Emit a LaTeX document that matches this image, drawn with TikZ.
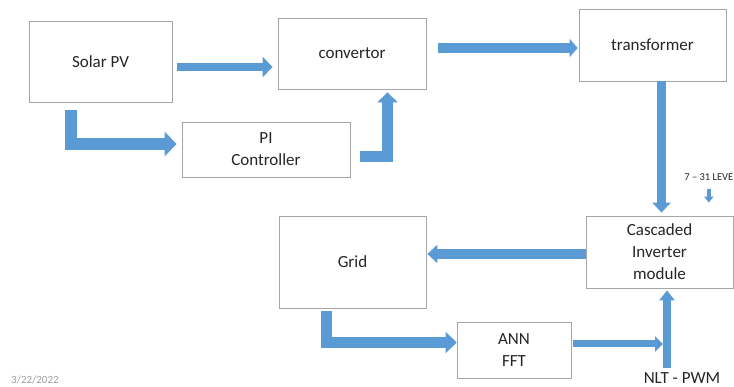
\documentclass[tikz,border=0pt]{standalone}
\usepackage{fontspec}
\setmainfont{Carlito}
\usetikzlibrary{arrows.meta,calc}
\definecolor{ablue}{HTML}{5B9BD5}
\definecolor{boxline}{HTML}{A6A6A6}
\definecolor{txt}{HTML}{262626}
\tikzset{
  blockbox/.style={draw=boxline, line width=0.8pt, fill=white, rectangle, align=center,
    text=txt, font=\fontsize{17}{22}\selectfont, inner sep=0pt},
  barrow/.style={draw=ablue, line width=#1, line join=miter, line cap=butt},
  head/.style n args={2}{-{Triangle[width=#1,length=#2]}},
}
\begin{document}
\begin{tikzpicture}[x=1pt,y=-1pt]
\useasboundingbox[fill=white] (0,0) rectangle (734,387);
% boxes
\node[blockbox, minimum width=143pt, minimum height=81pt] (solar) at (100.5,61.5) {Solar PV};
\node[blockbox, minimum width=148pt, minimum height=71pt] (conv) at (352,53.5) {convertor};
\node[blockbox, minimum width=147pt, minimum height=72pt] (trans) at (652.5,45) {transformer};
\node[blockbox, minimum width=168pt, minimum height=55pt] (pi) at (266,149.5) {PI\\Controller};
\node[blockbox, minimum width=147pt, minimum height=92pt] (grid) at (352.5,262) {Grid};
\node[blockbox, minimum width=147pt, minimum height=72pt] (casc) at (659.5,252) {Cascaded\\Inverter\\module};
\node[blockbox, minimum width=114pt, minimum height=56pt] (ann) at (514,350) {ANN\\FFT};
% labels
\node[anchor=east, inner sep=0pt, text=txt, font=\fontsize{10.5}{12}\selectfont] (lev) at (733.5,177) {7 – 31 LEVE};
\node[anchor=north, inner sep=0pt, text=txt, font=\fontsize{17}{20}\selectfont] (nlt) at (682,372) {NLT - PWM};
\node[anchor=west, inner sep=0pt, text=gray!75, font=\fontsize{11}{13}\selectfont] (date) at (11,380) {3/22/2022};
% arrows
\draw[barrow=8pt, head={20pt}{10pt}] ([shift={(5,5.5)}]solar.east) coordinate (s1) -- ([xshift=-5pt]s1 -| conv.west);
\draw[barrow=12pt, head={24pt}{12pt}] ([shift={(-29.5,8)}]solar.south) |- ([shift={(-5,-5.5)}]pi.west);
\draw[barrow=11pt, head={20pt}{10pt}] ([shift={(10,7.5)}]pi.east) -| ([shift={(35.5,3)}]conv.south);
\draw[barrow=10pt, head={18pt}{8pt}] ([shift={(12,-5.5)}]conv.east) coordinate (c2) -- ([xshift=-1pt]c2 -| trans.west);
\draw[barrow=9pt, head={18pt}{10pt}] ([shift={(9,0)}]trans.south) coordinate (t1) -- ([yshift=3pt]t1 |- casc.north);
\draw[barrow=4pt, head={9pt}{6pt}] ([yshift=-8pt]lev.south) coordinate (l1) -- ([yshift=13pt]l1 |- casc.north);
\draw[barrow=10pt, head={18pt}{10pt}] ([yshift=-2pt]casc.west) coordinate (g1) -- ([xshift=1pt]g1 -| grid.east);
\draw[barrow=11pt, head={21pt}{11pt}] ([shift={(-26,3)}]grid.south) |- ([yshift=7.5pt]ann.west);
\draw[barrow=8pt, head={15pt}{10pt}] ([yshift=4pt]nlt.north -| casc.south) ++(7.5,0) coordinate (n1) -- ([shift={(7.5,2)}]casc.south) coordinate (c1);
\draw[barrow=7pt, head={15pt}{8pt}] ([shift={(2,-6)}]ann.east) coordinate (a1) -- ([xshift=-4pt]a1 -| c1);
\end{tikzpicture}
\end{document}
